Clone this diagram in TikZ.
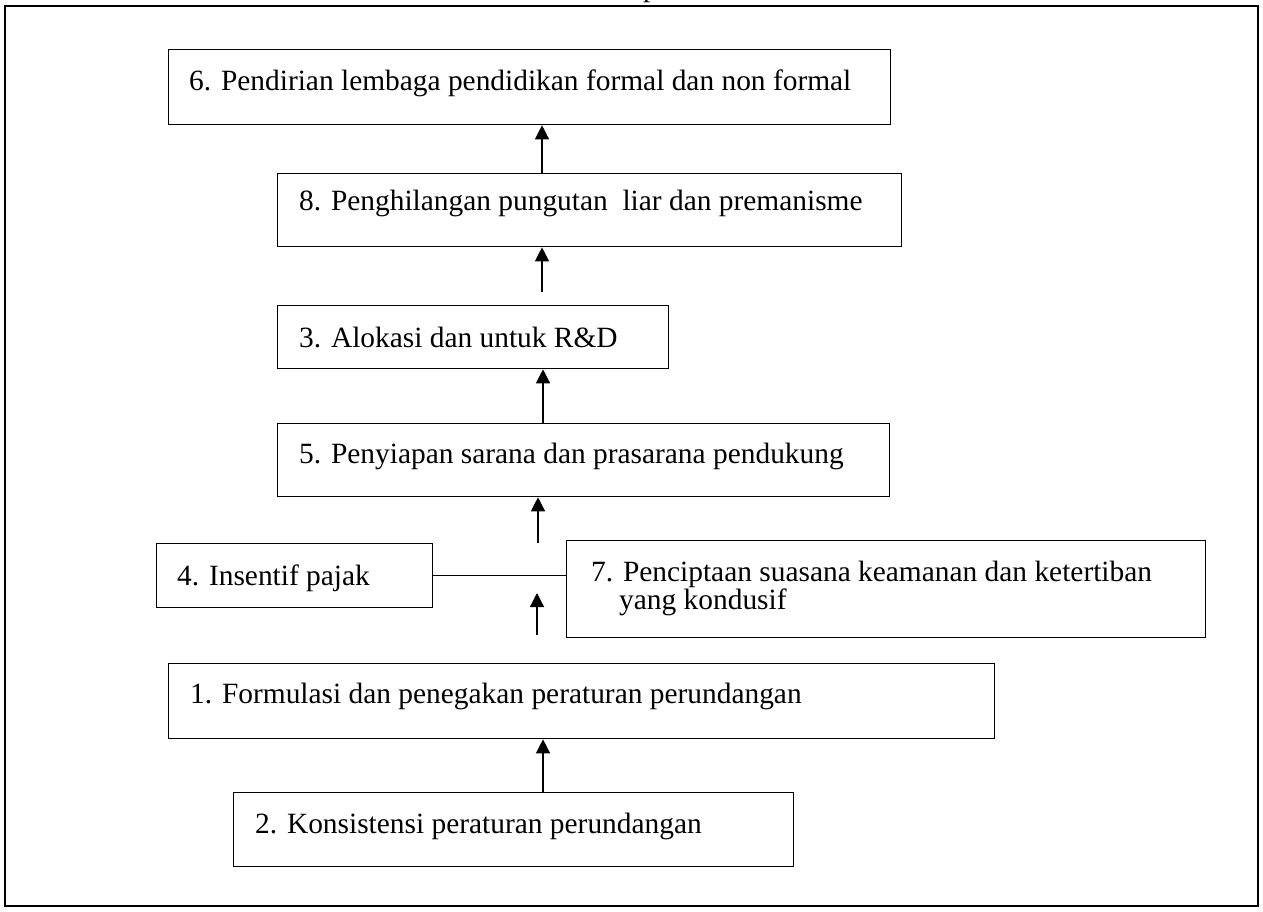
\documentclass[tikz,border=0pt]{standalone}
\usepackage{fontspec}
\setmainfont{Liberation Serif}
\usetikzlibrary{arrows.meta}
\begin{document}
\begin{tikzpicture}[x=1pt,y=-1pt,
  boxnode/.style={draw=black, line width=1.3pt, inner sep=0pt, anchor=north west, rectangle},
  txt/.style={anchor=base west, inner sep=0pt, font=\fontsize{29.4}{30}\selectfont},
  conn/.style={line width=1.3pt, -{Triangle[length=14pt,width=14pt]}},
  plainline/.style={line width=1.3pt},
  framebox/.style={draw=black, line width=2pt}]
\useasboundingbox (0,0) rectangle (1263,911);
% outer frame
\draw[framebox] (5,6) rectangle (1258,906);
% cut-off fragment above the frame
\node[txt] (frag) at (643,-3.5) {p};
% boxes
\node[boxnode, minimum width=722pt, minimum height=75pt] (b6) at (168,49) {};
\node[boxnode, minimum width=624pt, minimum height=73pt] (b8) at (277,173) {};
\node[boxnode, minimum width=391pt, minimum height=63pt] (b3) at (277,305) {};
\node[boxnode, minimum width=612pt, minimum height=73pt] (b5) at (277,423) {};
\node[boxnode, minimum width=276pt, minimum height=64pt] (b4) at (156,543) {};
\node[boxnode, minimum width=639pt, minimum height=97pt] (b7) at (566,540) {};
\node[boxnode, minimum width=826pt, minimum height=75pt] (b1) at (168,663) {};
\node[boxnode, minimum width=560pt, minimum height=74pt] (b2) at (233,792) {};
% texts
\node[txt] (l6) at (189,90) {6. Pendirian lembaga pendidikan formal dan non formal};
\node[txt] (l8) at (299,210) {8. Penghilangan pungutan\ \ liar dan premanisme};
\node[txt] (l3) at (299,347) {3. Alokasi dan untuk R\&D};
\node[txt] (l5) at (299,463) {5. Penyiapan sarana dan prasarana pendukung};
\node[txt] (l4) at (177,585) {4. Insentif pajak};
\node[txt] (l7a) at (591,581) {7. Penciptaan suasana keamanan dan ketertiban};
\node[txt] (l7b) at (619,609) {yang kondusif};
\node[txt] (l1) at (190,703) {1. Formulasi dan penegakan peraturan perundangan};
\node[txt] (l2) at (255,833) {2. Konsistensi peraturan perundangan};
% connector x positions, free tails and free tip
\coordinate (x1) at (542,0);
\coordinate (x3) at (543,0);
\coordinate (x6) at (543,0);
\coordinate (t2) at (542,292);
\coordinate (t4) at (538,543);
\coordinate (t5) at (537,635);
\coordinate (h5) at (537,593);
% connectors
\draw[conn] (b8.north -| x1) -- (b6.south -| x1);
\draw[conn] (t2) -- (t2 |- b8.south);
\draw[conn] (b5.north -| x3) -- (b3.south -| x3);
\draw[conn] (t4) -- (t4 |- b5.south);
\draw[conn] (t5) -- (h5);
\draw[conn] (b2.north -| x6) -- (b1.south -| x6);
\draw[plainline] (b4.east) -- (b4.east -| b7.west);
\end{tikzpicture}
\end{document}
